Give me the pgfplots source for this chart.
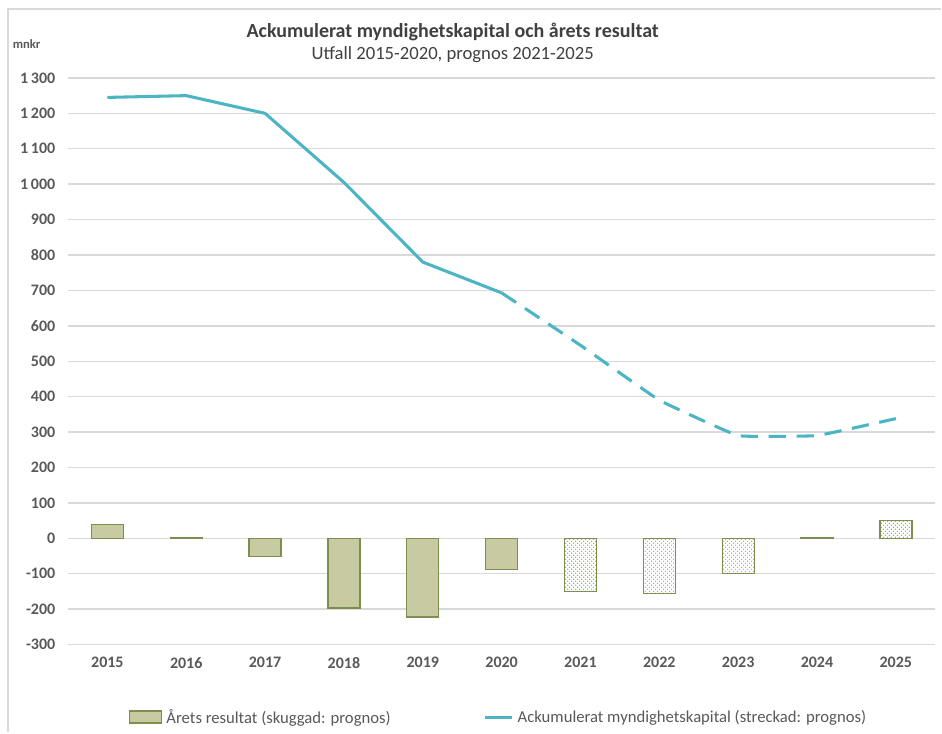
\documentclass[border=0pt]{standalone}
\usepackage{pgfplots}
\pgfplotsset{compat=1.18}
\usepackage{fontspec}
\setmainfont{Carlito}
\usetikzlibrary{patterns}
\definecolor{linec}{HTML}{4BB5C4}
\definecolor{barfill}{HTML}{C8CBA2}
\definecolor{baredge}{HTML}{7D8F4E}
\definecolor{dotc}{HTML}{9AAA6A}
\definecolor{gridc}{HTML}{D9D9D9}
\definecolor{txt}{HTML}{595959}
\definecolor{ttl}{HTML}{404040}
\begin{document}
\begin{tikzpicture}
\path (0,0) rectangle (706.5pt,549.75pt);
\draw[gridc, line width=1pt] (6pt,0) -- (6pt,543pt) -- (706.5pt,543pt);
\node[font=\bfseries\fontsize{15}{17}\selectfont, text=ttl] at (339.75pt,525.75pt) {Ackumulerat myndighetskapital och årets resultat};
\node[font=\fontsize{14}{16}\selectfont, text=ttl] at (339.75pt,508.5pt) {Utfall 2015-2020, prognos 2021-2025};
\node[font=\bfseries\fontsize{9.5}{11}\selectfont, text=txt] at (20pt,516.75pt) {mnkr};
\begin{axis}[
  anchor=south west, at={(51pt,66pt)},
  width=651pt, height=425.25pt, scale only axis,
  xmin=2014.5, xmax=2025.5, ymin=-300, ymax=1300,
  xtick={2015,...,2025}, ytick={-300,-200,...,1300},
  axis line style={draw=none}, tick style={draw=none},
  ymajorgrids, grid style={gridc, line width=1.1pt},
  /pgf/number format/assume math mode=true,
  x tick label style={/pgf/number format/1000 sep={}},
  y tick label style={/pgf/number format/1000 sep={\,}},
  tick label style={font=\bfseries\fontsize{12}{14}\selectfont, text=txt},
  yticklabel style={xshift=-6pt},
  xticklabel style={yshift=-6pt},
  legend columns=2,
  legend style={draw=none, at={(0.497,-0.129)}, anchor=center,
    font=\fontsize{12.5}{14}\selectfont, text=txt,
    /tikz/every odd column/.append style={column sep=1pt},
    /tikz/every even column/.append style={column sep=68pt}},
]
\addplot[ybar, bar shift=0pt, bar width=24pt, fill=barfill, draw=baredge, line width=0.9pt,
  legend image code/.code={\draw[fill=barfill, draw=baredge, line width=0.9pt] (0pt,-4pt) rectangle (24pt,5pt);}]
  coordinates {(2015,40) (2016,3) (2017,-52) (2018,-197) (2019,-222) (2020,-88)};
\addlegendentry{Årets resultat (skuggad: prognos)}
\addplot[ybar, bar shift=0pt, bar width=24pt, fill=white, draw=baredge, line width=0.9pt,
  postaction={pattern=crosshatch dots, pattern color=dotc}, forget plot]
  coordinates {(2021,-150) (2022,-156) (2023,-100) (2024,2) (2025,50)};
\addplot[linec, line width=2.3pt, line join=round,
  legend image code/.code={\draw[linec, line width=2.3pt] (0pt,0pt) -- (20pt,0pt);}]
  coordinates {(2015,1245) (2016,1250) (2017,1200) (2018,1005) (2019,780) (2020,693)};
\addlegendentry{Ackumulerat myndighetskapital (streckad: prognos)}
\addplot[linec, line width=2.3pt, line join=round, smooth, tension=0.15, dash pattern=on 13pt off 8pt, forget plot]
  coordinates {(2020,693) (2021,545) (2022,390) (2023,290) (2024,290) (2025,338)};
\end{axis}
\end{tikzpicture}
\end{document}
